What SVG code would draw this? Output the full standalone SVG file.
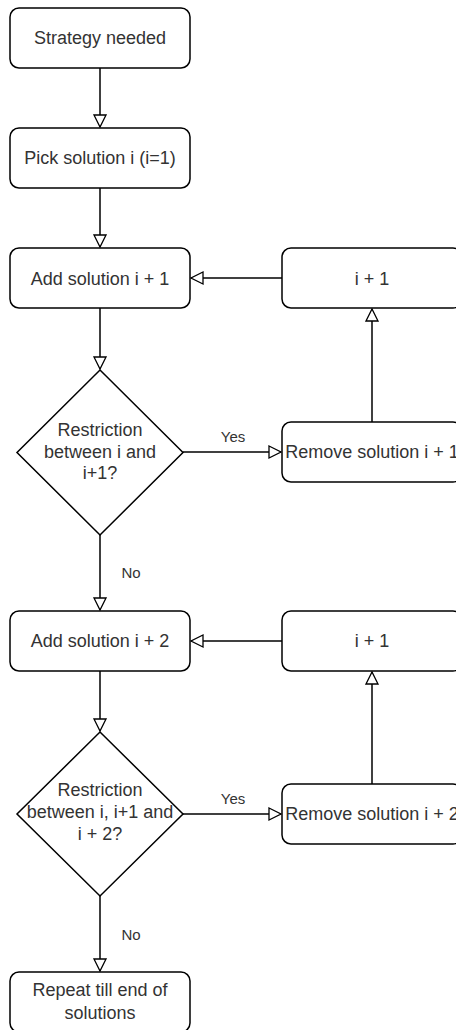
<svg xmlns="http://www.w3.org/2000/svg" width="456" height="1030" viewBox="0 0 456 1030">
<defs>
<marker id="arr" markerWidth="16" markerHeight="16" refX="13" refY="7" orient="auto" markerUnits="userSpaceOnUse">
<path d="M1,1 L13,7 L1,13 Z" fill="#ffffff" stroke="#000000" stroke-width="1.3"/>
</marker>
<style>
.box{fill:#ffffff;stroke:#000000;stroke-width:1.5}
.t{font-family:"Liberation Sans",Arial,sans-serif;font-size:18px;fill:#333333;text-anchor:middle}
.l{font-family:"Liberation Sans",Arial,sans-serif;font-size:15px;fill:#333333;text-anchor:middle}
.c{fill:none;stroke:#000000;stroke-width:1.5;marker-end:url(#arr)}
</style>
</defs>
<rect width="456" height="1030" fill="#ffffff"/>
<g id="connectors">
<path class="c" d="M100,68 L100,127"/>
<path class="c" d="M100,188 L100,247"/>
<path class="c" d="M100,308 L100,369"/>
<path class="c" d="M282,278 L191,278"/>
<path class="c" d="M183,452 L281,452"/>
<path class="c" d="M372,422 L372,309"/>
<path class="c" d="M100,535 L100,610"/>
<path class="c" d="M282,641 L191,641"/>
<path class="c" d="M100,671 L100,731"/>
<path class="c" d="M183,814 L281,814"/>
<path class="c" d="M372,784 L372,672"/>
<path class="c" d="M100,896 L100,971"/>
<text class="l" x="233" y="442">Yes</text>
<text class="l" x="131" y="578">No</text>
<text class="l" x="233" y="804">Yes</text>
<text class="l" x="131" y="940">No</text>
</g>
<g id="strategy-needed">
<rect class="box" x="10" y="8" width="180" height="60" rx="9"/>
<text class="t" x="100" y="44">Strategy needed</text>
</g>
<g id="pick-solution">
<rect class="box" x="10" y="128" width="180" height="60" rx="9"/>
<text class="t" x="100" y="164">Pick solution i (i=1)</text>
</g>
<g id="add-solution-1">
<rect class="box" x="10" y="248" width="180" height="60" rx="9"/>
<text class="t" x="100" y="285">Add solution i + 1</text>
</g>
<g id="inc-1">
<rect class="box" x="282" y="248" width="180" height="60" rx="9"/>
<text class="t" x="372" y="285">i + 1</text>
</g>
<g id="restriction-1">
<path class="box" d="M100,370 L183,452.5 L100,535 L17,452.5 Z"/>
<text class="t" x="100" y="436">Restriction</text>
<text class="t" x="100" y="458">between i and</text>
<text class="t" x="100" y="479">i+1?</text>
</g>
<g id="remove-solution-1">
<rect class="box" x="282" y="422" width="180" height="60" rx="9"/>
<text class="t" x="372" y="458">Remove solution i + 1</text>
</g>
<g id="add-solution-2">
<rect class="box" x="10" y="611" width="180" height="60" rx="9"/>
<text class="t" x="100" y="647">Add solution i + 2</text>
</g>
<g id="inc-2">
<rect class="box" x="282" y="611" width="180" height="60" rx="9"/>
<text class="t" x="372" y="647">i + 1</text>
</g>
<g id="restriction-2">
<path class="box" d="M100,732 L183,814 L100,896 L17,814 Z"/>
<text class="t" x="100" y="796">Restriction</text>
<text class="t" x="100" y="818">between i, i+1 and</text>
<text class="t" x="100" y="840">i + 2?</text>
</g>
<g id="remove-solution-2">
<rect class="box" x="282" y="784" width="180" height="60" rx="9"/>
<text class="t" x="372" y="820">Remove solution i + 2</text>
</g>
<g id="repeat">
<rect class="box" x="10" y="972" width="180" height="60" rx="9"/>
<text class="t" x="100" y="996">Repeat till end of</text>
<text class="t" x="100" y="1019">solutions</text>
</g>
</svg>
